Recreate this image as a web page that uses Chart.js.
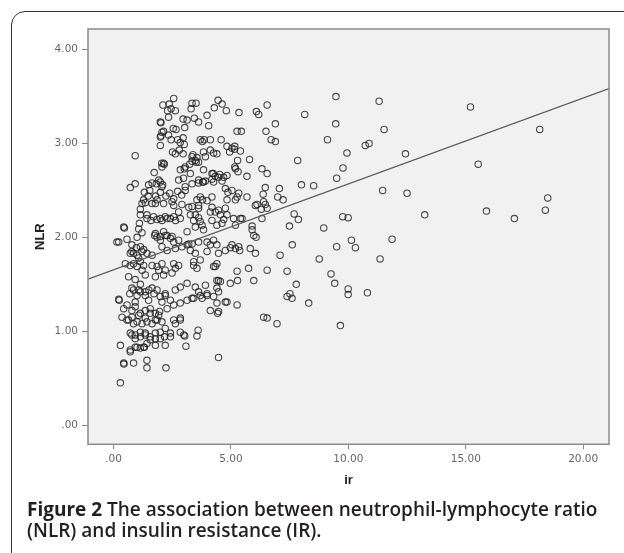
<!DOCTYPE html>
<html>
<head>
<meta charset="utf-8">
<script src="https://cdn.jsdelivr.net/npm/chart.js@4.4.0/dist/chart.umd.min.js"></script>
<style>
  html, body { margin: 0; padding: 0; background: #fff; }
  body { width: 624px; height: 553px; position: relative; overflow: hidden; }
  #frame { position: absolute; left: 11px; top: 11px; width: 700px; height: 700px;
           border: 1.5px solid #333; border-radius: 14px; box-sizing: border-box; }
  #myChart { position: absolute; left: 0; top: 0; }
  #caption { position: absolute; left: 27px; top: 499px; font-family: "Open Sans";
             font-size: 19px; line-height: 21px; font-weight: 600; color: #231f20; white-space: nowrap; }
  #caption b { font-weight: 700; }
</style>
</head>
<body>
<div id="frame"></div>
<canvas id="myChart" width="624" height="553"></canvas>
<div id="caption"><b>Figure 2</b> The association between neutrophil-lymphocyte ratio<br>(NLR) and insulin resistance (IR).</div>
<script>
// ir (x) and NLR (y) of every subject
const irValues = [
  // sparse part, ir > 6.5
  9.47, 11.31, 8.14, 6.89, 9.46, 11.52, 9.11, 6.89, 10.72, 10.88,
  9.94, 12.43, 7.84, 9.77, 9.50, 7.06, 8.00, 8.52, 6.99, 7.22,
  11.46, 12.50, 7.69, 7.87, 7.49, 8.95, 9.76, 9.99, 7.61, 9.50,
  10.13, 10.30, 11.86, 7.09, 8.76, 11.35, 7.39, 9.26, 7.78, 9.42,
  7.51, 7.39, 7.60, 8.31, 9.99, 9.99, 10.81, 6.96, 9.66, 15.20,
  18.15, 15.53, 13.25, 15.88, 17.07, 18.39, 18.49,
  // dense part
  2.10, 2.56, 2.37, 2.45, 2.30, 2.34, 2.63, 3.34, 3.51, 3.30,
  3.44, 3.62, 3.13, 3.98, 4.45, 4.62, 4.29, 4.80, 5.34, 6.08,
  6.18, 6.54, 6.49, 5.26, 5.44, 4.05, 2.96, 3.03, 2.02, 2.54,
  2.66, 2.13, 2.02, 2.34, 2.45, 1.99, 2.73, 2.96, 3.01, 2.84,
  2.80, 2.96, 2.51, 2.63, 3.69, 3.86, 4.12, 3.78, 4.58, 4.83,
  5.04, 4.94, 5.16, 5.40, 6.71, 0.92, 3.38, 3.55, 3.34, 3.52,
  4.26, 4.40, 3.91, 5.28, 5.79, 5.19, 5.30, 6.32, 6.54, 5.68,
  2.05, 2.16, 1.73, 2.84, 3.01, 3.24, 3.27, 2.77, 2.98, 3.79,
  3.62, 3.91, 4.24, 4.33, 4.52, 4.69, 4.83, 4.26, 4.62, 0.71,
  0.92, 1.49, 1.64, 1.54, 1.82, 1.99, 2.09, 1.31, 1.47, 1.79,
  1.85, 1.99, 2.23, 2.39, 2.56, 2.73, 2.90, 3.05, 3.55, 3.79,
  3.98, 4.83, 4.87, 5.19, 5.26, 5.68, 6.37, 6.46, 6.54, 1.21,
  1.28, 1.64, 2.56, 2.91, 3.34, 3.62, 6.11, 6.29, 1.14, 1.42,
  1.59, 1.85, 2.06, 2.20, 2.42, 2.64, 2.84, 3.27, 3.41, 3.62,
  3.69, 4.12, 4.33, 4.55, 4.69, 5.11, 5.40, 5.90, 5.97, 6.07,
  0.46, 0.14, 0.57, 0.78, 0.97, 1.14, 1.28, 0.71, 0.85, 1.00,
  1.75, 1.85, 1.99, 2.13, 2.28, 2.42, 2.56, 2.77, 2.91, 3.13,
  3.34, 3.98, 4.26, 4.40, 4.97, 5.19, 5.37, 6.04, 0.85, 1.14,
  1.64, 1.85, 2.06, 2.56, 2.77, 3.41, 3.69, 4.26, 4.40, 5.26, 5.75, 6.54,
  // low part
  0.24, 0.69, 0.85, 1.00, 1.14, 1.35, 1.50, 1.72, 1.85, 1.99,
  2.20, 0.43, 0.57, 0.78, 0.92, 1.14, 1.35, 1.56, 1.78, 1.96,
  0.36, 0.57, 0.78, 1.00, 1.21, 1.42, 1.64, 1.85, 2.06, 0.71,
  0.92, 1.14, 1.35, 1.56, 1.78, 1.99, 2.17, 0.29, 0.71, 0.92,
  1.14, 1.31, 1.42, 2.20, 2.42, 2.84, 3.03, 3.08, 3.60, 3.55,
  0.44, 0.85, 1.42, 1.42, 2.23, 4.47, 0.29, 2.28, 2.56, 2.84,
  3.13, 3.41, 3.69, 3.98, 4.26, 4.40, 4.83, 5.26, 2.56, 2.84,
  4.47, 6.39, 6.54, 5.28, 5.97, 4.47, 4.97,
  // upper middle
  1.99, 2.06, 1.99, 2.13, 2.06, 1.92, 2.06, 3.83, 4.12, 5.15,
  3.34, 3.48, 3.62, 3.05, 3.83, 4.19, 4.47, 5.16, 6.46, 3.05,
  3.34, 3.62, 3.83, 4.19, 4.76, 5.04, 5.33, 3.69, 4.19,
  // lower middle
  1.35, 1.78, 2.13, 2.49, 1.42, 1.70, 1.99, 2.28, 2.56, 2.77,
  0.43, 1.07, 0.22, 0.78, 1.21, 1.42, 1.64, 1.78, 1.99, 2.20,
  2.49, 2.06, 2.28, 2.63, 0.50, 0.71, 1.00, 1.28, 1.92, 2.20,
  2.63, 0.64, 1.35, 1.78, 2.13, 2.49, 0.78, 1.07, 1.35, 1.64,
  2.20, 2.63, 2.84, 0.22, 0.92, 1.49, 2.06, 2.42,
  3.20, 3.62, 3.48, 3.77, 3.48, 3.13, 3.83, 4.19, 4.47, 4.76,
  4.83, 4.19, 4.40, 4.62, 5.19, 5.47, 6.04, 6.39, 5.90, 6.32,
  3.20, 3.62, 4.12, 3.27, 3.48, 3.98, 4.47, 4.76, 5.04, 5.33,
  5.82, 3.41, 3.55, 4.33, 3.13, 3.48, 3.91, 4.40, 4.55, 3.62,
  3.98, 4.40, 4.47, 4.76, 3.34, 3.77,
  0.64, 0.85, 1.07, 1.35, 1.56, 1.78, 1.92, 0.78, 0.92, 1.14,
  1.35, 1.56, 1.78, 0.71, 1.00, 1.28, 0.43, 1.99, 2.20, 2.42,
  2.63, 2.84, 2.99, 1.78, 4.12, 4.43, 1.14, 1.10, 1.21, 1.00,
  1.07, 1.21, 0.92, 1.14
];

const nlrValues = [
  3.50, 3.45, 3.31, 3.21, 3.21, 3.15, 3.04, 3.02, 2.98, 3.00,
  2.90, 2.89, 2.82, 2.74, 2.63, 2.52, 2.56, 2.55, 2.43, 2.40,
  2.50, 2.47, 2.25, 2.19, 2.12, 2.10, 2.22, 2.21, 1.92, 1.90,
  1.97, 1.89, 1.98, 1.81, 1.77, 1.77, 1.64, 1.61, 1.50, 1.51,
  1.40, 1.37, 1.35, 1.30, 1.45, 1.39, 1.41, 1.08, 1.06, 3.39,
  3.15, 2.78, 2.24, 2.28, 2.20, 2.29, 2.42,

  3.41, 3.48, 3.42, 3.37, 3.35, 3.28, 3.35, 3.43, 3.43, 3.37,
  3.27, 3.23, 3.25, 3.30, 3.46, 3.42, 3.38, 3.35, 3.33, 3.34,
  3.31, 3.41, 3.13, 3.13, 3.13, 3.19, 3.26, 3.17, 3.22, 3.16,
  3.15, 3.13, 3.08, 3.09, 3.04, 2.98, 3.04, 3.06, 2.99, 3.01,
  2.93, 2.89, 2.91, 2.89, 3.04, 3.04, 3.04, 3.02, 3.04, 2.97,
  2.95, 2.91, 2.97, 2.92, 3.04, 2.87, 2.88, 2.85, 2.81, 2.80,
  2.90, 2.89, 2.86, 2.82, 2.83, 2.73, 2.70, 2.73, 2.68, 2.65,
  2.79, 2.78, 2.69, 2.72, 2.73, 2.78, 2.68, 2.61, 2.63, 2.59,
  2.58, 2.60, 2.68, 2.65, 2.67, 2.64, 2.66, 2.59, 2.60, 2.53,
  2.57, 2.56, 2.58, 2.50, 2.57, 2.59, 2.56, 2.48, 2.44, 2.44,
  2.40, 2.48, 2.44, 2.47, 2.41, 2.49, 2.45, 2.50, 2.40, 2.40,
  2.39, 2.40, 2.48, 2.40, 2.43, 2.43, 2.46, 2.35, 2.31, 2.36,
  2.40, 2.36, 2.34, 2.35, 2.33, 2.34, 2.35, 2.30, 2.24, 2.20,
  2.18, 2.19, 2.18, 2.22, 2.20, 2.18, 2.20, 2.24, 2.18, 2.21,
  2.17, 2.27, 2.27, 2.24, 2.19, 2.20, 2.20, 2.08, 2.02, 2.00,
  2.10, 1.95, 1.98, 1.92, 1.89, 1.90, 1.87, 1.83, 1.83, 1.81,
  2.02, 2.00, 1.97, 2.06, 2.02, 1.99, 1.95, 1.97, 1.90, 1.92,
  1.93, 1.95, 1.97, 1.92, 1.89, 1.88, 1.86, 1.83, 1.72, 1.74,
  1.70, 1.69, 1.72, 1.72, 1.70, 1.74, 1.76, 1.69, 1.72, 1.64, 1.67, 1.65,

  1.33, 1.40, 1.44, 1.38, 1.42, 1.38, 1.44, 1.40, 1.44, 1.37,
  1.38, 1.24, 1.28, 1.22, 1.26, 1.19, 1.22, 1.24, 1.19, 1.21,
  1.15, 1.12, 1.15, 1.10, 1.08, 1.10, 1.08, 1.12, 1.10, 0.98,
  0.96, 0.99, 0.98, 0.94, 0.98, 0.92, 0.94, 0.85, 0.80, 0.83,
  0.82, 0.83, 0.87, 0.85, 0.94, 0.99, 0.95, 0.84, 1.01, 0.95,
  0.65, 0.66, 0.69, 0.61, 0.61, 0.72, 0.45, 1.24, 1.28, 1.30,
  1.33, 1.35, 1.38, 1.38, 1.37, 1.30, 1.31, 1.28, 1.12, 1.14,
  1.21, 1.15, 1.14, 1.54, 1.54, 1.54, 1.51,

  3.23, 3.12, 3.07, 2.79, 2.75, 2.61, 2.54, 2.91, 2.93, 2.94,
  2.86, 2.82, 2.80, 2.75, 2.72, 2.68, 2.64, 2.75, 2.53, 2.54,
  2.57, 2.61, 2.59, 2.62, 2.52, 2.50, 2.47, 2.43, 2.43,

  2.37, 2.36, 2.36, 2.38, 2.24, 2.22, 2.20, 2.20, 2.22, 2.27,
  2.11, 2.09, 1.95, 1.85, 1.85, 1.83, 1.81, 2.04, 2.01, 2.02,
  2.01, 1.90, 1.86, 1.88, 1.72, 1.70, 1.69, 1.70, 1.65, 1.65,
  1.67, 1.58, 1.60, 1.58, 1.60, 1.62, 1.46, 1.44, 1.42, 1.46,
  1.40, 1.44, 1.47, 1.34, 1.31, 1.33, 1.31, 1.33,
  2.32, 2.31, 2.24, 2.13, 2.11, 2.06, 2.08, 2.32, 2.29, 2.31,
  2.24, 2.18, 2.13, 2.15, 2.13, 2.20, 2.34, 2.38, 2.12, 2.20,
  1.93, 1.95, 1.92, 1.86, 1.83, 1.85, 1.83, 1.86, 1.92, 1.90,
  1.88, 1.70, 1.67, 1.69, 1.51, 1.47, 1.49, 1.54, 1.53, 1.42,
  1.40, 1.46, 1.42, 1.31, 1.35, 1.35,
  1.12, 1.08, 1.17, 1.14, 1.19, 1.12, 1.17, 0.96, 0.92, 0.94,
  0.96, 0.91, 0.92, 0.78, 0.83, 0.83, 0.66, 0.99, 1.03, 0.98,
  1.08, 1.12, 0.96, 0.85, 1.22, 1.19, 2.30, 2.15, 2.05, 2.00,
  1.78, 1.65, 1.55, 1.50
];

// fit line end points (at the plot edges)
const fitIr = [-1.09, 21.1];
const fitNlr = [1.555, 3.585];

const xTicks = [0, 5, 10, 15, 20];
const yTicks = [0, 1, 2, 3, 4];

function fmt(v) {
  return v === 0 ? ".00" : v.toFixed(2);
}

const points = [];
const n = Math.min(irValues.length, nlrValues.length);
for (let i = 0; i < n; i++) {
  points.push({ x: irValues[i], y: nlrValues[i] });
}
const fitLine = fitIr.map((x, i) => ({ x: x, y: fitNlr[i] }));

const plotBox = {
  id: "plotBox",
  beforeDatasetsDraw: (chart) => {
    const { ctx, chartArea: a } = chart;
    ctx.save();
    ctx.fillStyle = "#f1f1f1";
    ctx.fillRect(a.left, a.top, a.right - a.left, a.bottom - a.top);
    ctx.restore();
  },
  afterDatasetsDraw: (chart) => {
    const { ctx, chartArea: a } = chart;
    ctx.save();
    ctx.strokeStyle = "#8a8a8a";
    ctx.lineWidth = 1.5;
    ctx.strokeRect(a.left, a.top, a.right - a.left, a.bottom - a.top);
    ctx.restore();
  },
};

const tickFont = { family: "DejaVu Sans", size: 10.5 };
const titleFont = { family: "Liberation Sans", size: 13, weight: "bold" };

new Chart(document.getElementById("myChart"), {
  type: "scatter",
  data: {
    datasets: [
      {
        data: fitLine,
        showLine: true,
        borderColor: "#5a5a5a",
        borderWidth: 1.2,
        pointRadius: 0,
      },
      {
        data: points,
        pointStyle: "circle",
        pointRadius: 3.2,
        borderWidth: 1.1,
        borderColor: "rgba(30,30,30,0.8)",
        backgroundColor: "rgba(0,0,0,0)",
      },
    ],
  },
  options: {
    responsive: false,
    animation: false,
    plugins: { legend: { display: false }, tooltip: { enabled: false } },
    layout: { padding: { left: 0, top: 29, right: 15, bottom: 0 } },
    scales: {
      x: {
        type: "linear",
        min: -1.09,
        max: 21.1,
        afterBuildTicks: (s) => { s.ticks = xTicks.map((v) => ({ value: v })); },
        afterFit: (s) => { s.height = 108.7; },
        ticks: { callback: (v) => fmt(v), font: tickFont, color: "#666", padding: 4, maxRotation: 0 },
        grid: { drawOnChartArea: false, drawTicks: true, tickLength: 5, color: "#888" },
        border: { display: false },
        title: { display: true, text: "ir", font: titleFont, color: "#222", padding: { top: 0, bottom: 65 } },
      },
      y: {
        type: "linear",
        min: -0.205,
        max: 4.22,
        afterBuildTicks: (s) => { s.ticks = yTicks.map((v) => ({ value: v })); },
        afterFit: (s) => { s.width = 88; },
        ticks: { callback: (v) => fmt(v), font: tickFont, color: "#666", padding: 4 },
        grid: { drawOnChartArea: false, drawTicks: true, tickLength: 6, color: "#888" },
        border: { display: false },
        title: { display: true, text: "NLR", font: titleFont, color: "#222", padding: { top: 33, bottom: 0 } },
      },
    },
  },
  plugins: [plotBox],
});
</script>
</body>
</html>
